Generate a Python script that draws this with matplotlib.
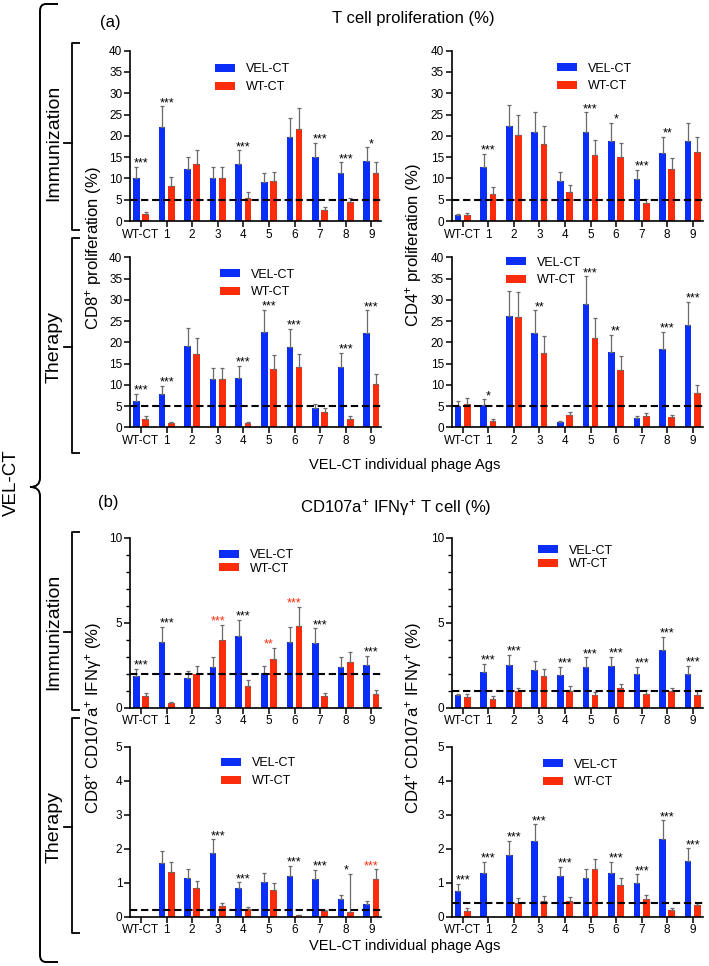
import matplotlib
matplotlib.use('Agg')
import matplotlib.pyplot as plt
import numpy as np
from matplotlib.path import Path
from matplotlib.patches import PathPatch

plt.rcParams['font.family'] = ['Liberation Sans', 'DejaVu Sans']
plt.rcParams['mathtext.fontset'] = 'custom'
plt.rcParams['mathtext.rm'] = 'Liberation Sans'
plt.rcParams['mathtext.default'] = 'regular'

groups = ['WT-CT', '1', '2', '3', '4', '5', '6', '7', '8', '9']

# (a) T cell proliferation (%) - immunization, CD8
a_imm_cd8_vel = [10.2, 22.0, 12.2, 10.2, 13.5, 9.1, 19.8, 15.1, 11.2, 14.1]
a_imm_cd8_vel_sd = [2.5, 4.9, 2.8, 2.4, 3.1, 2.1, 4.4, 3.3, 2.6, 3.2]
a_imm_cd8_wt = [1.6, 8.3, 13.5, 10.2, 5.4, 9.3, 21.6, 2.7, 4.5, 11.2]
a_imm_cd8_wt_sd = [0.4, 2.0, 3.1, 2.4, 1.3, 2.2, 4.9, 0.7, 1.0, 2.6]
a_imm_cd8_stars = ['***', '***', '', '', '***', '', '', '***', '***', '*']

# immunization, CD4
a_imm_cd4_vel = [1.3, 12.8, 22.2, 20.9, 9.4, 20.8, 18.75, 9.8, 15.9, 18.75]
a_imm_cd4_vel_sd = [0.3, 2.9, 5.1, 4.7, 2.1, 4.7, 4.25, 2.2, 3.8, 4.25]
a_imm_cd4_wt = [1.4, 6.4, 20.2, 18.1, 6.8, 15.5, 15.1, 4.3, 12.1, 16.1]
a_imm_cd4_wt_sd = [0.5, 1.6, 4.6, 4.1, 1.7, 3.6, 3.3, 0.9, 2.8, 3.6]
a_imm_cd4_stars = ['', '***', '', '', '', '***', '*', '***', '**', '']

# therapy, CD8
a_ther_cd8_vel = [6.3, 7.9, 19.1, 11.3, 11.7, 22.5, 18.8, 4.5, 14.2, 22.3]
a_ther_cd8_vel_sd = [1.6, 1.9, 4.3, 2.7, 2.8, 5.1, 4.3, 1.1, 3.3, 5.2]
a_ther_cd8_wt = [1.9, 0.9, 17.2, 11.25, 0.9, 13.8, 14.1, 3.6, 1.9, 10.2]
a_ther_cd8_wt_sd = [0.7, 0.3, 3.8, 2.65, 0.4, 3.2, 3.2, 0.9, 0.7, 2.3]
a_ther_cd8_stars = ['***', '***', '', '', '***', '***', '***', '', '***', '***']

# therapy, CD4
a_ther_cd4_vel = [5.0, 5.3, 26.1, 22.3, 1.2, 28.9, 17.8, 2.1, 18.4, 24.1]
a_ther_cd4_vel_sd = [1.2, 1.3, 5.9, 5.2, 0.4, 6.6, 4.0, 0.6, 4.1, 5.4]
a_ther_cd4_wt = [5.5, 1.55, 25.9, 17.6, 2.8, 21.1, 13.6, 2.7, 2.4, 8.1]
a_ther_cd4_wt_sd = [1.3, 0.5, 6.0, 4.0, 0.7, 4.7, 3.1, 0.7, 0.6, 1.9]
a_ther_cd4_stars = ['', '*', '', '**', '', '***', '**', '', '***', '***']

# (b) CD107a+ IFNg+ T cell (%) - immunization, CD8
b_imm_cd8_vel = [1.88, 3.88, 1.76, 2.41, 4.22, 2.02, 3.88, 3.79, 2.41, 2.49]
b_imm_cd8_vel_sd = [0.42, 0.88, 0.42, 0.57, 0.96, 0.45, 0.88, 0.88, 0.57, 0.57]
b_imm_cd8_wt = [0.70, 0.26, 2.0, 3.96, 1.29, 2.86, 4.8, 0.69, 2.67, 0.82]
b_imm_cd8_wt_sd = [0.18, 0.06, 0.43, 0.9, 0.32, 0.67, 1.12, 0.17, 0.59, 0.22]
b_imm_cd8_stars = ['***', '***', '', '***', '***', '**', '***', '***', '', '***']
b_imm_cd8_red = [0, 0, 0, 1, 0, 1, 1, 0, 0, 0]

# immunization, CD4
b_imm_cd4_vel = [0.73, 2.09, 2.52, 2.19, 1.95, 2.4, 2.46, 1.97, 3.37, 2.0]
b_imm_cd4_vel_sd = [0.1, 0.49, 0.59, 0.53, 0.45, 0.57, 0.55, 0.45, 0.8, 0.48]
b_imm_cd4_wt = [0.63, 0.53, 0.96, 1.85, 0.96, 0.73, 1.14, 0.81, 0.96, 0.77]
b_imm_cd4_wt_sd = [0.16, 0.14, 0.2, 0.43, 0.3, 0.21, 0.28, 0.21, 0.18, 0.21]
b_imm_cd4_stars = ['', '***', '***', '', '***', '***', '***', '***', '***', '***']

# therapy, CD8
b_ther_cd8_vel = [0, 1.57, 1.15, 1.86, 0.83, 1.03, 1.2, 1.1, 0.51, 0.37]
b_ther_cd8_vel_sd = [0, 0.35, 0.25, 0.42, 0.18, 0.25, 0.29, 0.27, 0.12, 0.08]
b_ther_cd8_wt = [0, 1.31, 0.84, 0.32, 0.23, 0.8, 0.05, 0.16, 0.13, 1.12]
b_ther_cd8_wt_sd = [0, 0.3, 0.2, 0.08, 0.05, 0.2, 0.01, 0.04, 1.14, 0.27]
b_ther_cd8_stars = ['', '', '', '***', '***', '', '***', '***', '*', '***']
b_ther_cd8_red = [0, 0, 0, 0, 0, 0, 0, 0, 0, 1]

# therapy, CD4
b_ther_cd4_vel = [0.77, 1.3, 1.82, 2.22, 1.19, 1.13, 1.3, 1.0, 2.3, 1.64]
b_ther_cd4_vel_sd = [0.2, 0.31, 0.42, 0.5, 0.28, 0.26, 0.31, 0.25, 0.53, 0.37]
b_ther_cd4_wt = [0.18, 0, 0.41, 0.47, 0.46, 1.39, 0.92, 0.53, 0.19, 0.33]
b_ther_cd4_wt_sd = [0.07, 0, 0.13, 0.15, 0.12, 0.32, 0.21, 0.12, 0.07, 0.07]
b_ther_cd4_stars = ['***', '***', '***', '***', '***', '', '***', '***', '***', '***']

BLUE = '#0A2EF8'
RED = '#FA2C0C'
ECOL = '#6a6a6a'

W, H = 709, 966
fig = plt.figure(figsize=(W / 100, H / 100), dpi=100)

# overlay in pixel coords for brackets and free text
ov = fig.add_axes([0, 0, 1, 1], zorder=-1)
ov.set_xlim(0, W)
ov.set_ylim(H, 0)
ov.axis('off')


def add_ax(left, right, top, bottom):
    return fig.add_axes([left / W, 1 - bottom / H, (right - left) / W, (bottom - top) / H])


def draw_panel(ax, vel, vel_sd, wt, wt_sd, stars, red_flags, ymax, cutoff,
               major, minor, leg_x, leg_y, leg_space):
    x = np.arange(len(groups))
    vel = np.array(vel, float)
    wt = np.array(wt, float)
    vel_sd = np.array(vel_sd, float)
    wt_sd = np.array(wt_sd, float)
    off, w = 0.18, 0.26
    hb = ax.bar(x - off, vel, w, color=BLUE, label='VEL-CT', zorder=2)
    hr = ax.bar(x + off, wt, w, color=RED, label='WT-CT', zorder=2)
    for xs, v, s in [(x - off, vel, vel_sd), (x + off, wt, wt_sd)]:
        m = s > 0
        ax.errorbar(xs[m], v[m], yerr=[np.zeros(m.sum()), s[m]], fmt='none',
                    ecolor=ECOL, elinewidth=0.9, capsize=1.6, capthick=0.9, zorder=3)
    ax.axhline(cutoff, color='black', lw=1.5, ls=(0, (3.5, 1.8)), zorder=4)
    top = np.maximum(vel + vel_sd, wt + wt_sd)
    for i, s in enumerate(stars):
        if s:
            c = RED if red_flags[i] else 'black'
            ax.annotate(s, (i, top[i]), xytext=(0, -2), textcoords='offset points',
                        ha='center', va='bottom', fontsize=9, color=c)
    ax.set_xlim(-0.43, 9.4)
    ax.set_ylim(0, ymax)
    ax.set_xticks(x)
    ax.set_xticklabels(groups)
    ax.set_yticks(major)
    if minor is not None:
        ax.set_yticks(minor, minor=True)
    for sp in ['top', 'right']:
        ax.spines[sp].set_visible(False)
    for sp in ['left', 'bottom']:
        ax.spines[sp].set_linewidth(1.2)
    ax.tick_params(axis='both', which='major', length=4, width=1.1, labelsize=8.5, pad=1.5)
    ax.tick_params(axis='y', which='minor', length=3, width=1.0)
    ax.legend(handles=[hb, hr], loc='upper left',
              bbox_to_anchor=(leg_x / W, 1 - leg_y / H), bbox_transform=fig.transFigure,
              frameon=False, fontsize=9, handlelength=1.6, handleheight=0.6,
              handletextpad=0.9, labelspacing=leg_space, borderpad=0, borderaxespad=0)


no_red = [0] * 10
a_major = np.arange(0, 41, 5)

ax = add_ax(130, 381.5, 50.7, 221)
draw_panel(ax, a_imm_cd8_vel, a_imm_cd8_vel_sd, a_imm_cd8_wt, a_imm_cd8_wt_sd,
           a_imm_cd8_stars, no_red, 40, 5, a_major, None, 215, 63.5, 0.45)
ax = add_ax(451.7, 703, 50.7, 221)
draw_panel(ax, a_imm_cd4_vel, a_imm_cd4_vel_sd, a_imm_cd4_wt, a_imm_cd4_wt_sd,
           a_imm_cd4_stars, no_red, 40, 5, a_major, None, 557, 62.5, 0.45)
ax = add_ax(130, 381.5, 257.3, 427.3)
draw_panel(ax, a_ther_cd8_vel, a_ther_cd8_vel_sd, a_ther_cd8_wt, a_ther_cd8_wt_sd,
           a_ther_cd8_stars, no_red, 40, 5, a_major, None, 220, 268.5, 0.45)
ax = add_ax(451.7, 703, 257.3, 427.3)
draw_panel(ax, a_ther_cd4_vel, a_ther_cd4_vel_sd, a_ther_cd4_wt, a_ther_cd4_wt_sd,
           a_ther_cd4_stars, no_red, 40, 5, a_major, None, 506, 256.5, 0.45)

ax = add_ax(130, 381.5, 537.7, 707.7)
draw_panel(ax, b_imm_cd8_vel, b_imm_cd8_vel_sd, b_imm_cd8_wt, b_imm_cd8_wt_sd,
           b_imm_cd8_stars, b_imm_cd8_red, 10, 2, [0, 5, 10], np.arange(0, 11, 1), 219, 549.5, 0.1)
ax = add_ax(451.7, 703, 537.7, 707.7)
draw_panel(ax, b_imm_cd4_vel, b_imm_cd4_vel_sd, b_imm_cd4_wt, b_imm_cd4_wt_sd,
           b_imm_cd4_stars, no_red, 10, 1, [0, 5, 10], np.arange(0, 11, 1), 538, 544.5, 0.15)
ax = add_ax(130, 381.5, 746.7, 916.7)
draw_panel(ax, b_ther_cd8_vel, b_ther_cd8_vel_sd, b_ther_cd8_wt, b_ther_cd8_wt_sd,
           b_ther_cd8_stars, b_ther_cd8_red, 5, 0.2, np.arange(0, 6, 1), None, 221, 757.5, 0.45)
ax = add_ax(451.7, 703, 746.7, 916.7)
draw_panel(ax, b_ther_cd4_vel, b_ther_cd4_vel_sd, b_ther_cd4_wt, b_ther_cd4_wt_sd,
           b_ther_cd4_stars, no_red, 5, 0.4, np.arange(0, 6, 1), None, 543, 758.5, 0.45)

# titles and labels
ov.text(110, 23, '(a)', fontsize=12, ha='center', va='center')
ov.text(413, 18, 'T cell proliferation (%)', fontsize=12, ha='center', va='center')
ov.text(108, 503, '(b)', fontsize=12, ha='center', va='center')
ov.text(396, 508, r'CD107a$^{+}$ IFN$\gamma^{+}$ T cell (%)', fontsize=12, ha='center', va='center')
ov.text(405, 465, 'VEL-CT individual phage Ags', fontsize=10.5, ha='center', va='center')
ov.text(405, 946, 'VEL-CT individual phage Ags', fontsize=10.5, ha='center', va='center')

ov.text(93, 248, r'CD8$^{+}$ proliferation (%)', fontsize=12, rotation=90, ha='center', va='center')
ov.text(413, 245, r'CD4$^{+}$ proliferation (%)', fontsize=12, rotation=90, ha='center', va='center')
ov.text(93, 718, r'CD8$^{+}$ CD107a$^{+}$ IFN$\gamma^{+}$ (%)', fontsize=12, rotation=90, ha='center', va='center')
ov.text(413, 718, r'CD4$^{+}$ CD107a$^{+}$ IFN$\gamma^{+}$ (%)', fontsize=12, rotation=90, ha='center', va='center')

# small brackets: (top, bottom, tip, label)
brackets = [(43, 230, 143, 'Immunization'), (238, 453, 347, 'Therapy'),
            (532, 710, 632, 'Immunization'), (718, 933, 827, 'Therapy')]
for t, b, tip, lab in brackets:
    ov.plot([80, 71.5, 71.5, 80], [t, t, b, b], color='black', lw=1.3, solid_capstyle='butt')
    ov.plot([64, 71.5], [tip, tip], color='black', lw=1.3)
    ov.text(54, tip, lab, fontsize=14, rotation=90, ha='center', va='center')

# big brace
verts = [(58, 4), (46, 4), (40, 4), (40, 11), (40, 478), (40, 487), (30, 487),
         (40, 487), (40, 496), (40, 955), (40, 962), (46, 962), (58, 962)]
codes = [Path.MOVETO, Path.LINETO, Path.CURVE3, Path.CURVE3, Path.LINETO,
         Path.CURVE3, Path.CURVE3, Path.CURVE3, Path.CURVE3, Path.LINETO,
         Path.CURVE3, Path.CURVE3, Path.LINETO]
ov.add_patch(PathPatch(Path(verts, codes), fill=False, lw=1.4, color='black'))
ov.text(11, 483, 'VEL-CT', fontsize=13.5, rotation=90, ha='center', va='center')

fig.savefig('out.png', dpi=100)
